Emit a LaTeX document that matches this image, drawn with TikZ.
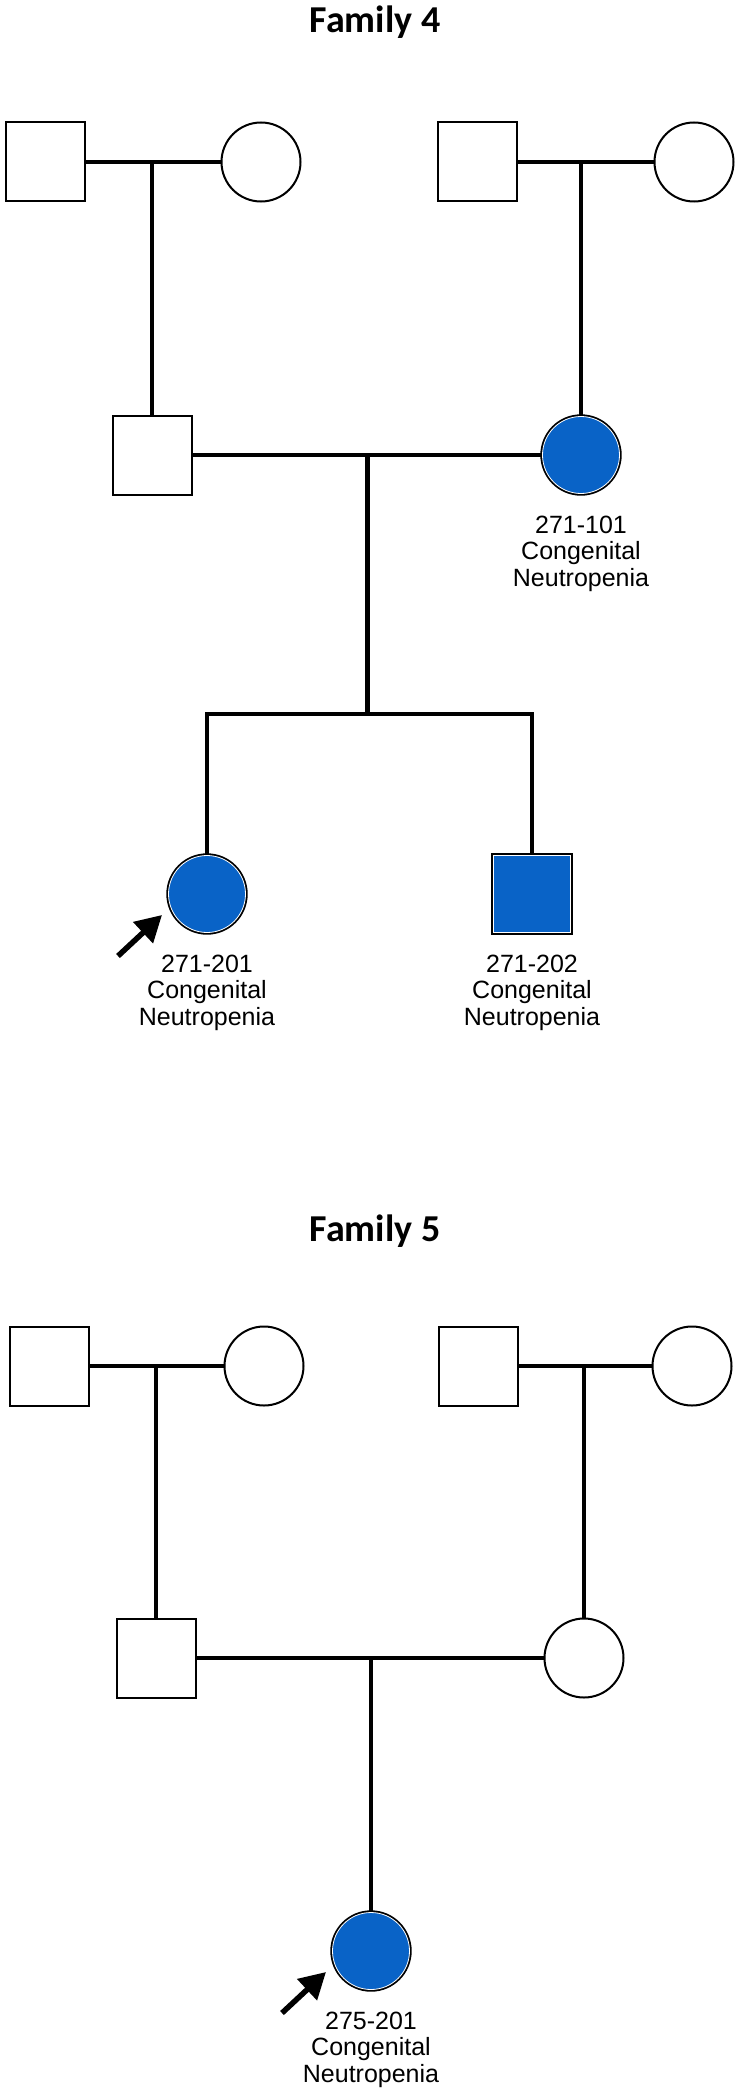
\documentclass[tikz,border=0pt]{standalone}
\usepackage{fontspec}
\newfontfamily\labelfont{Liberation Sans}
\newfontfamily\titlefont{Carlito}
\usetikzlibrary{arrows.meta,calc,positioning}
\definecolor{affected}{RGB}{9,99,199}

\begin{document}
\begin{tikzpicture}[
  x=1pt,y=-1pt,
  male/.style  ={draw,rectangle,minimum size=79pt,inner sep=0pt,line width=2pt,fill=white},
  female/.style={draw,circle,minimum size=79pt,inner sep=0pt,line width=2pt,fill=white},
  hit/.style   ={fill=affected,draw=white,line width=0.8pt,minimum size=77pt,
                 preaction={draw=black,line width=4.4pt}},
  link/.style  ={line width=4.5pt},
  proband/.style={line width=5.5pt,-{Triangle[length=26pt,width=28pt]}},
  tag/.style   ={align=center,inner sep=0pt,font=\labelfont\fontsize{25}{26.3}\selectfont},
  title/.style ={font=\titlefont\bfseries\fontsize{38}{40}\selectfont,anchor=base},
]
\useasboundingbox (0,0) rectangle (750,2100);

%% ============================================================
%% Family 4:  rows at y=162 (grandparents), 455 (parents), 894 (children)
%% ============================================================
\node[title] (t4) at (375,33) {Family 4};

% --- Grandparents ---
\node[male]   (gf4a) at (45,162)  {};
\node[female] (gm4a) at (261,162) {};
\node[male]   (gf4b) at (477,162) {};
\node[female] (gm4b) at (694,162) {};

% --- Parents ---
\node[male]       (f4) at (152,455) {};
\node[female,hit] (m4) at (581,455) {};
\node[tag,below=22pt of m4] (lm4) {271-101\\Congenital\\Neutropenia};

% --- Children ---
\node[female,hit] (c4a) at (207,894) {};
\node[male,hit]   (c4b) at (532,894) {};
\node[tag,below=22pt of c4a] (lc4a) {271-201\\Congenital\\Neutropenia};
\node[tag,below=22pt of c4b] (lc4b) {271-202\\Congenital\\Neutropenia};

\draw[link] (gf4a) -- (gm4a);
\draw[link] (gf4b) -- (gm4b);
\draw[link] (f4.north) -- (f4.north |- gf4a.east);
\draw[link] (m4.north) -- (m4.north |- gf4b.east);
\draw[link] (f4) -- (m4);

\coordinate (s4) at ($(f4.east)!0.5!(m4.west)$);
\coordinate (sib4) at (s4 |- 0,714);
\draw[link] (s4) -- (sib4);
\draw[link] (c4a.north) |- (sib4) -| (c4b.north);

\draw[proband] ($(c4a)+(-89,62)$) -- ++(44,-41);

%% ============================================================
%% Family 5:  rows at y=1366, 1658, 1951
%% ============================================================
\node[title] (t5) at (375,1241) {Family 5};

% --- Grandparents ---
\node[male]   (gf5a) at (49,1366)  {};
\node[female] (gm5a) at (264,1366) {};
\node[male]   (gf5b) at (478,1366) {};
\node[female] (gm5b) at (692,1366) {};

% --- Parents ---
\node[male]   (f5) at (156,1658) {};
\node[female] (m5) at (584,1658) {};

% --- Child ---
\node[female,hit] (c5) at (371,1951) {};
\node[tag,below=22pt of c5] (lc5) {275-201\\Congenital\\Neutropenia};

\draw[link] (gf5a) -- (gm5a);
\draw[link] (gf5b) -- (gm5b);
\draw[link] (f5.north) -- (f5.north |- gf5a.east);
\draw[link] (m5.north) -- (m5.north |- gf5b.east);
\draw[link] (f5) -- (m5);
\draw[link] (c5.north) -- (c5.north |- f5.east);

\draw[proband] ($(c5)+(-89,62)$) -- ++(44,-41);

\end{tikzpicture}
\end{document}
